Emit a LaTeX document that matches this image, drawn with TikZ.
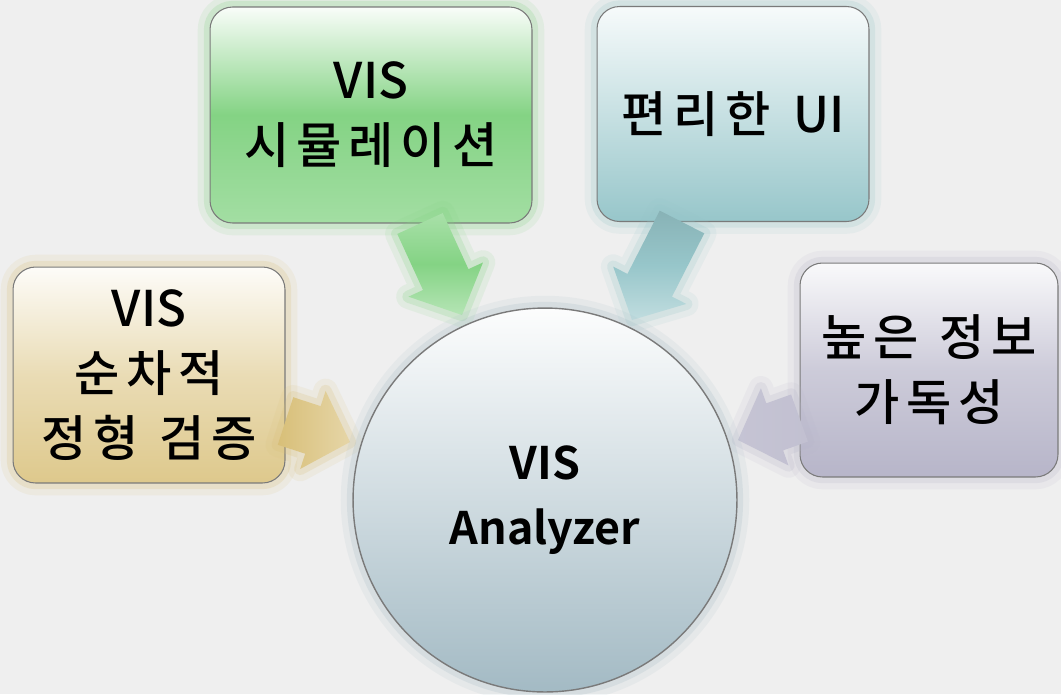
\documentclass[tikz,border=0pt]{standalone}
\usepackage{fontspec}
\newfontfamily\kr{Noto Sans CJK KR Medium}
\newfontfamily\krs{Noto Sans CJK KR Medium}[LetterSpace=14]
\newfontfamily\krb{Noto Sans CJK KR Bold}
\usetikzlibrary{calc}
\definecolor{bggray}{HTML}{EFEFEF}
\definecolor{edgegray}{HTML}{7A7A7A}
\definecolor{simgreen}{HTML}{84D384}
\definecolor{uiteal}{HTML}{97C6CA}
\definecolor{seqtan}{HTML}{D8BF78}
\definecolor{readlav}{HTML}{B7B5C9}
\definecolor{anablue}{HTML}{A3BAC4}
\tikzset{
  glow/.style={preaction={draw=#1,line width=14pt,opacity=.12,line join=round},
               preaction={draw=#1,line width=7pt,opacity=.22,line join=round}},
  box/.style={draw=edgegray,line width=.6pt,rounded corners=.45cm,align=center,
              inner sep=0pt,font=\kr\fontsize{28}{37}\selectfont},
}
% fat arrow: start, tip, fill options
\newcommand\blockarrow[3]{%
  \coordinate (h) at ($(#2)!.78cm!(#1)$);
  \path[#3] ($(#1)!.5cm!90:(#2)$) -- ($(h)!.5cm!90:(#2)$) -- ($(h)!.82cm!90:(#2)$)
    -- (#2) -- ($(h)!.82cm!-90:(#2)$) -- ($(h)!.5cm!-90:(#2)$)
    -- ($(#1)!.5cm!-90:(#2)$) -- cycle;}
\begin{document}
\begin{tikzpicture}[x=.02cm,y=-.02cm]
\fill[bggray] (0,0) rectangle (1061,694);
\useasboundingbox (0,0) rectangle (1061,694);
% boxes
\node[box,glow=simgreen,top color=white!95!simgreen,bottom color=simgreen!75!white,middle color=simgreen,
      minimum width=6.44cm,minimum height=4.32cm] (sim) at (371,115) {VIS\\{\krs 시뮬레이션}};
\node[box,glow=uiteal,top color=white!92!uiteal,bottom color=uiteal,
      minimum width=5.44cm,minimum height=4.3cm] (ui) at (733,114) {{\krs 편리한} \ UI};
\node[box,glow=seqtan,top color=white!95!seqtan,bottom color=seqtan!85!white,middle color=seqtan!55!white,
      minimum width=5.44cm,minimum height=4.32cm] (seq) at (149,375) {VIS\\{\krs 순차적}\\{\krs 정형 \hspace{.06em}검증}};
\node[box,glow=readlav,top color=white!92!readlav,bottom color=readlav,middle color=readlav!70!white,
      minimum width=5.16cm,minimum height=4.28cm] (read) at (929,370) {{\krs 높은 \hspace{.06em}정보}\\{\krs 가독성}};
% arrows
\coordinate (simtip) at (462,315);
\coordinate (uitip) at (632,320);
\coordinate (seqtip) at (350,442);
\coordinate (readtip) at (738,440);
\blockarrow{$(sim.south)+(49,0)$}{simtip}{glow=simgreen,top color=simgreen!70!white,bottom color=simgreen!60!white,middle color=simgreen}
\blockarrow{$(ui.south)+(-51,0)$}{uitip}{glow=uiteal,top color=uiteal!90!black,bottom color=uiteal!60!white,middle color=uiteal}
\blockarrow{$(seq.east)+(0,46)$}{seqtip}{glow=seqtan,left color=seqtan,right color=seqtan!65!white}
\blockarrow{$(read.west)+(0,48)$}{readtip}{glow=readlav,right color=readlav!85!white,left color=readlav!80!white}
% centre
\node[circle,draw=edgegray,line width=.8pt,glow=anablue,top color=white!97!anablue,bottom color=anablue,
      minimum size=7.68cm,align=center,font=\krb\fontsize{25.5}{37}\selectfont] (ana) at (545,500) {VIS\\Analyzer};
\end{tikzpicture}
\end{document}
